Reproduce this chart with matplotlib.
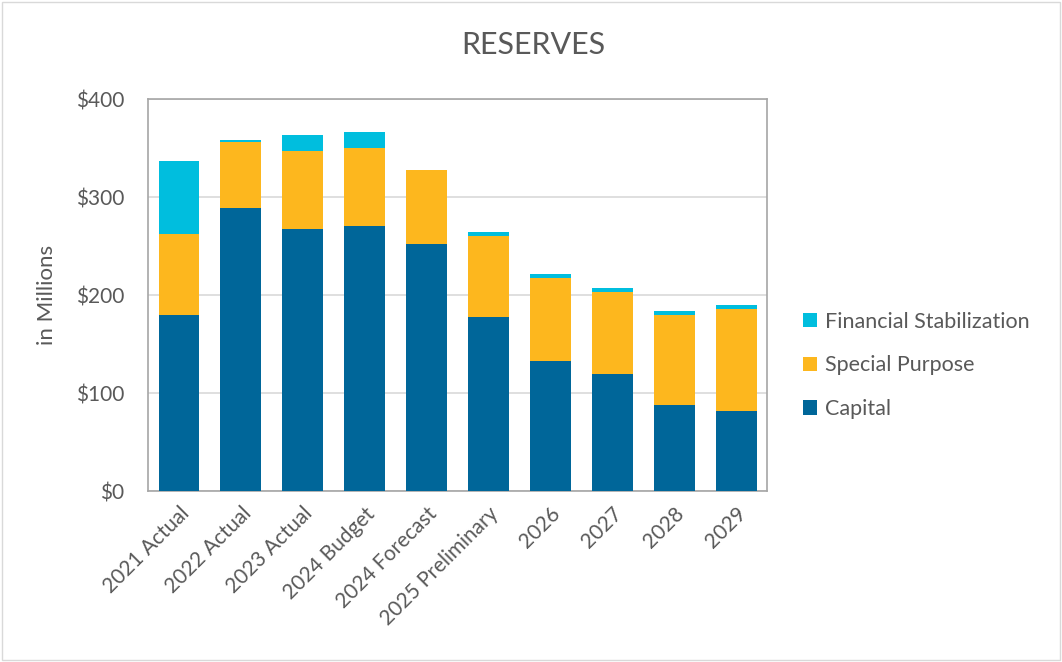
import matplotlib
matplotlib.use("Agg")
import matplotlib.pyplot as plt
from matplotlib.patches import Rectangle
import numpy as np

categories = ["2021 Actual", "2022 Actual", "2023 Actual", "2024 Budget", "2024 Forecast",
              "2025 Preliminary", "2026", "2027", "2028", "2029"]
capital = [180, 289, 267, 270, 252, 178, 133, 119, 88, 82]
special = [82, 67, 80, 80, 76, 82, 84, 84, 92, 104]
financial = [75, 2, 16, 16, 0, 4, 4, 4, 4, 4]

c_cap = "#006699"
c_spe = "#FDB71E"
c_fin = "#00BEDE"
txt = "#595959"

plt.rcParams['font.family'] = ['Lato', 'DejaVu Sans']

fig = plt.figure(figsize=(10.62, 6.62), dpi=100)
ax = fig.add_axes([0.1394, 0.2583, 0.5829, 0.5921])

x = np.arange(len(categories))
w = 0.66
cap = np.array(capital)
spe = np.array(special)
fin = np.array(financial)
b1 = ax.bar(x, cap, w, color=c_cap, label="Capital", zorder=3)
b2 = ax.bar(x, spe, w, bottom=cap, color=c_spe, label="Special Purpose", zorder=3)
b3 = ax.bar(x, fin, w, bottom=cap + spe, color=c_fin, label="Financial Stabilization", zorder=3)

ax.set_xlim(-0.5, len(categories) - 0.5)
ax.set_ylim(0, 400)
ax.set_yticks([0, 100, 200, 300, 400])
ax.set_yticklabels(["$0", "$100", "$200", "$300", "$400"])
ax.set_xticks(x)
ax.set_xticklabels(categories, rotation=45, ha="right", rotation_mode="anchor")
ax.tick_params(axis="y", colors=txt, labelsize=15, length=0, pad=17)
ax.tick_params(axis="x", colors=txt, labelsize=15, length=0, pad=9)
ax.yaxis.grid(True, color="#D9D9D9", linewidth=1.2, zorder=0)
for s in ax.spines.values():
    s.set_color("#A6A6A6")
    s.set_linewidth(1.2)

ax.set_ylabel("in Millions", fontsize=16, color=txt, labelpad=14)
fig.text(0.502, 0.932, "RESERVES", ha="center", va="center", fontsize=22, color=txt)

fig.legend(handles=[b3, b2, b1], loc="center left", bbox_to_anchor=(0.738, 0.448),
           frameon=False, fontsize=15.5, labelcolor=txt, handlelength=0.65, handleheight=0.65,
           handletextpad=0.35, labelspacing=1.1)

fig.patches.append(Rectangle((0.002, 0.003), 0.996, 0.994, transform=fig.transFigure,
                             fill=False, edgecolor="#D9D9D9", linewidth=1))

fig.savefig("out.png", dpi=100)
